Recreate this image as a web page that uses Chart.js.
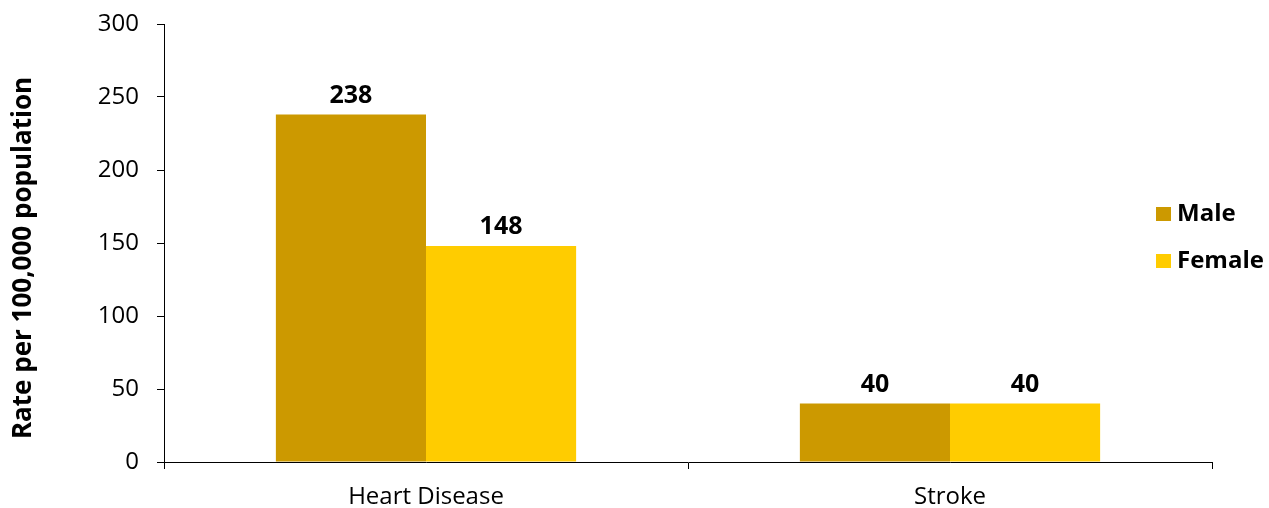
<!DOCTYPE html>
<html lang="en">
  <head>
    <meta charset="UTF-8" />
    <title>Rate per 100,000 population</title>
    <script src="https://cdn.jsdelivr.net/npm/chart.js"></script>
    <style>
      body {
        margin: 0;
        background: #fff;
      }
      .wrap {
        width: 1269px;
        height: 508px;
      }
    </style>
  </head>
  <body>
    <div class="wrap"><canvas id="rateChart" width="1269" height="508"></canvas></div>

    <script>
      const categories = ["Heart Disease", "Stroke"];
      const maleRates = [238, 40];
      const femaleRates = [148, 40];
      const seriesNames = ["Male", "Female"];
      const seriesColors = ["#CC9900", "#FFCC00"];
      const yTicks = [0, 50, 100, 150, 200, 250, 300];
      const yTitle = "Rate per 100,000 population";

      const fontFamily = "'Open Sans', 'Noto Sans', sans-serif";

      // value labels above each bar
      const barLabels = {
        id: "barLabels",
        afterDatasetsDraw(chart) {
          const ctx = chart.ctx;
          ctx.save();
          ctx.font = "bold 25px " + fontFamily;
          ctx.fillStyle = "#000";
          ctx.textAlign = "center";
          ctx.textBaseline = "alphabetic";
          chart.data.datasets.forEach((ds, i) => {
            chart.getDatasetMeta(i).data.forEach((bar, j) => {
              ctx.fillText(ds.data[j], bar.x, bar.y - 12);
            });
          });
          ctx.restore();
        },
      };

      // legend on the right + rotated axis title, drawn by hand
      const sideLegend = {
        id: "sideLegend",
        afterDraw(chart) {
          const ctx = chart.ctx;
          ctx.save();
          ctx.font = "bold 24px " + fontFamily;
          ctx.textBaseline = "middle";
          chart.data.datasets.forEach((ds, i) => {
            const y = 214 + i * 47;
            ctx.fillStyle = ds.backgroundColor;
            ctx.fillRect(1156, y - 7, 15, 14);
            ctx.fillStyle = "#000";
            ctx.fillText(ds.label, 1177, y);
          });

          ctx.font = "bold 26px " + fontFamily;
          ctx.textAlign = "center";
          ctx.translate(24, 258);
          ctx.rotate(-Math.PI / 2);
          ctx.fillText(yTitle, 0, 0);
          ctx.restore();
        },
      };

      new Chart(document.getElementById("rateChart"), {
        type: "bar",
        data: {
          labels: categories,
          datasets: [
            {
              label: seriesNames[0],
              data: maleRates,
              backgroundColor: seriesColors[0],
              categoryPercentage: 0.573,
              barPercentage: 1,
            },
            {
              label: seriesNames[1],
              data: femaleRates,
              backgroundColor: seriesColors[1],
              categoryPercentage: 0.573,
              barPercentage: 1,
            },
          ],
        },
        options: {
          responsive: false,
          animation: false,
          layout: { padding: { top: 24, right: 57, bottom: 0, left: 0 } },
          plugins: {
            legend: { display: false },
            tooltip: { enabled: false },
          },
          scales: {
            x: {
              grid: {
                offset: true,
                drawOnChartArea: false,
                color: "#000",
                tickLength: 7,
              },
              border: { color: "#000" },
              ticks: {
                color: "#000",
                padding: 14,
                font: { family: fontFamily, size: 24 },
              },
              afterFit(scale) {
                scale.height = 46;
                scale.paddingLeft = 0;
                scale.paddingRight = 0;
              },
            },
            y: {
              min: 0,
              max: 300,
              afterBuildTicks(scale) {
                scale.ticks = yTicks.map((v) => ({ value: v }));
              },
              grid: {
                drawOnChartArea: false,
                color: "#000",
                tickLength: 7,
              },
              border: { color: "#000" },
              ticks: {
                color: "#000",
                padding: 18,
                font: { family: fontFamily, size: 24 },
              },
              afterFit(scale) {
                scale.width = 164;
                scale.paddingTop = 0;
                scale.paddingBottom = 0;
              },
            },
          },
        },
        plugins: [barLabels, sideLegend],
      });
    </script>
  </body>
</html>
